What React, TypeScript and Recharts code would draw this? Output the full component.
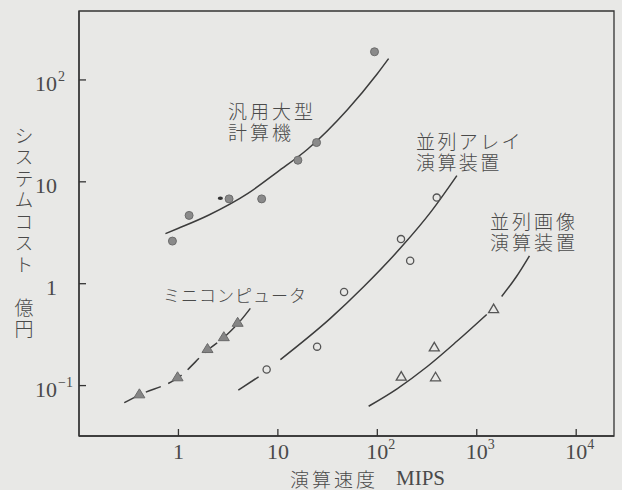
import React from 'react';
import { ComposedChart, XAxis, YAxis, Line, Scatter, ReferenceArea } from 'recharts';

// ---- tick labels ----
const xTicks = [1, 10, 100, 1000, 10000];
const xTickBase = ['1', '10', '10', '10', '10'];
const xTickExp = ['', '', '2', '3', '4'];
const yTicks = [0.1, 1, 10, 100];
const yTickBase = ['10', '1', '10', '10'];
const yTickExp = ['−1', '', '', '2'];

// ---- 汎用大型計算機 (filled circles) ----
const mainX = [0.87, 1.28, 3.23, 6.87, 15.9, 24.5, 93.7];
const mainY = [2.62, 4.68, 6.8, 6.8, 16.3, 24.3, 189];
const mainMarkX = [2.64];
const mainMarkY = [6.9];
const mainCurveX = [0.74, 1, 2, 5, 10, 20, 50, 100, 130];
const mainCurveY = [3.1, 3.5, 4.7, 7.7, 12.6, 21, 51, 115, 162];

// ---- ミニコンピュータ (filled triangles) ----
const miniX = [0.405, 0.98, 1.96, 2.86, 3.94];
const miniY = [0.083, 0.122, 0.231, 0.302, 0.418];
const miniCurveX = [0.285, 0.405, 1, 2, 2.9, 4, 5.8];
const miniCurveY = [0.068, 0.081, 0.12, 0.226, 0.3, 0.41, 0.646];

// ---- 並列アレイ演算装置 (open circles) ----
const arrX = [7.71, 24.8, 46.3, 173, 214, 396];
const arrY = [0.144, 0.241, 0.828, 2.74, 1.68, 7.0];
const arrCurveAX = [4.0, 6.4];
const arrCurveAY = [0.09, 0.122];
const arrCurveBX = [10.6, 33.7, 72.8, 178, 355, 631];
const arrCurveBY = [0.18, 0.457, 0.933, 2.34, 5.25, 11.5];

// ---- 並列画像演算装置 (open triangles) ----
const imgX = [174, 385, 374, 1477];
const imgY = [0.124, 0.122, 0.24, 0.57];
const imgCurveAX = [81.8, 158, 316, 631, 1259];
const imgCurveAY = [0.0627, 0.093, 0.153, 0.272, 0.499];
const imgCurveBX = [1780, 2500, 3390];
const imgCurveBY = [0.75, 1.17, 1.88];

const zip = (xs: number[], ys: number[]) => xs.map((x, i) => ({ x, y: ys[i] }));

const SERIF = '"Liberation Serif", "DejaVu Serif", serif';
const CJK = '"Noto Sans CJK JP", "Noto Sans CJK SC", sans-serif';
const INK = '#3c3c3c';
const TXT = '#4a4a4a';
const X_DOMAIN: [number, number] = [0.1, 24000];
const Y_DOMAIN: [number, number] = [0.032, 475];

const XTick = (props: any) => {
  const { x, index } = props;
  const base = xTickBase[index];
  const exp = xTickExp[index];
  return (
    <g>
      <text x={x} y={459} textAnchor="middle" fontFamily={SERIF} fontSize={22} fill={TXT}>
        {base}
      </text>
      {exp ? (
        <text x={x + 11} y={449} textAnchor="start" fontFamily={SERIF} fontSize={14} fill={TXT}>
          {exp}
        </text>
      ) : null}
    </g>
  );
};

const YTick = (props: any) => {
  const { y, index } = props;
  const base = yTickBase[index];
  const exp = yTickExp[index];
  return (
    <g>
      <text x={57} y={y + 11} textAnchor="end" fontFamily={SERIF} fontSize={22} fill={TXT}>
        {base}
      </text>
      {exp ? (
        <text x={58} y={y + 1} textAnchor="start" fontFamily={SERIF} fontSize={14} fill={TXT}>
          {exp}
        </text>
      ) : null}
    </g>
  );
};

const filledCircle = (p: any) => (
  <circle cx={p.cx} cy={p.cy} r={4} fill="#8a8a8a" stroke="#6c6c6c" strokeWidth={1} />
);
const smallMark = (p: any) => (
  <ellipse cx={p.cx} cy={p.cy} rx={2.6} ry={1.8} fill="#333" />
);
const filledTri = (p: any) => (
  <polygon
    points={`${p.cx},${p.cy - 5} ${p.cx - 5.5},${p.cy + 4} ${p.cx + 5.5},${p.cy + 4}`}
    fill="#858585"
    stroke="#6a6a6a"
    strokeWidth={1}
  />
);
const openCircle = (p: any) => (
  <circle cx={p.cx} cy={p.cy} r={3.6} fill="none" stroke="#555" strokeWidth={1.3} />
);
const openTri = (p: any) => (
  <polygon
    points={`${p.cx},${p.cy - 4.5} ${p.cx - 5},${p.cy + 4} ${p.cx + 5},${p.cy + 4}`}
    fill="none"
    stroke="#555"
    strokeWidth={1.3}
  />
);

const axisLine = { stroke: '#333', strokeWidth: 1.3 };

const yLabel = 'システムコスト　億円';

const Block = ({ left, top, text, ls }: { left: number; top: number; text: string; ls: number }) => (
  <div
    style={{
      position: 'absolute',
      left,
      top,
      fontFamily: CJK,
      fontWeight: 300,
      fontSize: 19,
      lineHeight: '21px',
      letterSpacing: ls,
      color: TXT,
      whiteSpace: 'pre',
      pointerEvents: 'none',
    }}
  >
    {text}
  </div>
);

export default function App() {
  const lineProps = {
    xAxisId: 'b',
    yAxisId: 'l',
    dataKey: 'y',
    type: 'monotone' as const,
    dot: false,
    activeDot: false,
    stroke: INK,
    strokeWidth: 1.5,
    isAnimationActive: false,
  };
  return (
    <div style={{ position: 'absolute', left: 0, top: 0, width: 622, height: 490, background: '#e8e8e6' }}>
      <ComposedChart width={622} height={490} margin={{ top: 11, right: 8, bottom: 0, left: 0 }}>
        <XAxis
          xAxisId="b"
          type="number"
          dataKey="x"
          scale="log"
          domain={X_DOMAIN}
          allowDataOverflow
          ticks={xTicks}
          interval={0}
          tick={<XTick />}
          tickSize={-7}
          tickLine={axisLine}
          axisLine={axisLine}
          height={54}
        />
        <YAxis
          yAxisId="l"
          type="number"
          dataKey="y"
          scale="log"
          domain={Y_DOMAIN}
          allowDataOverflow
          ticks={yTicks}
          interval={0}
          tick={<YTick />}
          tickSize={-7}
          tickLine={axisLine}
          axisLine={axisLine}
          width={79}
        />
        <ReferenceArea
          xAxisId="b"
          yAxisId="l"
          x1={X_DOMAIN[0]}
          x2={X_DOMAIN[1]}
          y1={Y_DOMAIN[0]}
          y2={Y_DOMAIN[1]}
          fill="none"
          fillOpacity={0}
          stroke="#333"
          strokeWidth={1.3}
          ifOverflow="visible"
        />
        <Line {...lineProps} data={zip(mainCurveX, mainCurveY)} />
        <Line {...lineProps} data={zip(miniCurveX, miniCurveY)} strokeDasharray="16 8" />
        <Line {...lineProps} data={zip(arrCurveAX, arrCurveAY)} />
        <Line {...lineProps} data={zip(arrCurveBX, arrCurveBY)} />
        <Line {...lineProps} data={zip(imgCurveAX, imgCurveAY)} />
        <Line {...lineProps} data={zip(imgCurveBX, imgCurveBY)} />
        <Scatter xAxisId="b" yAxisId="l" data={zip(mainX, mainY)} shape={filledCircle} isAnimationActive={false} />
        <Scatter xAxisId="b" yAxisId="l" data={zip(mainMarkX, mainMarkY)} shape={smallMark} isAnimationActive={false} />
        <Scatter xAxisId="b" yAxisId="l" data={zip(miniX, miniY)} shape={filledTri} isAnimationActive={false} />
        <Scatter xAxisId="b" yAxisId="l" data={zip(arrX, arrY)} shape={openCircle} isAnimationActive={false} />
        <Scatter xAxisId="b" yAxisId="l" data={zip(imgX, imgY)} shape={openTri} isAnimationActive={false} />
      </ComposedChart>
      <svg
        width={622}
        height={490}
        style={{ position: 'absolute', left: 0, top: 0, pointerEvents: 'none' }}
      >
        <g fontFamily={CJK} fontWeight={300} fill={TXT} dominantBaseline="central">
          <text x={163} y={294} fontSize={17} letterSpacing={1}>ミニコンピュータ</text>
          <text x={290} y={478} fontSize={19} letterSpacing={3}>演算速度</text>
        </g>
        <text
          x={24}
          y={126}
          fontFamily={CJK}
          fontWeight={300}
          fontSize={19}
          fill={TXT}
          letterSpacing={2.5}
          style={{ writingMode: 'vertical-rl', textOrientation: 'upright' } as any}
        >
          {yLabel}
        </text>
        <text x={396} y={485} fontFamily={SERIF} fontSize={21} fill={TXT}>
          MIPS
        </text>
      </svg>
      <Block left={228} top={99.5} text={'汎用大型\n計算機'} ls={3} />
      <Block left={416} top={129.5} text={'並列アレイ\n演算装置'} ls={2.4} />
      <Block left={490} top={209.5} text={'並列画像\n演算装置'} ls={3} />
    </div>
  );
}
